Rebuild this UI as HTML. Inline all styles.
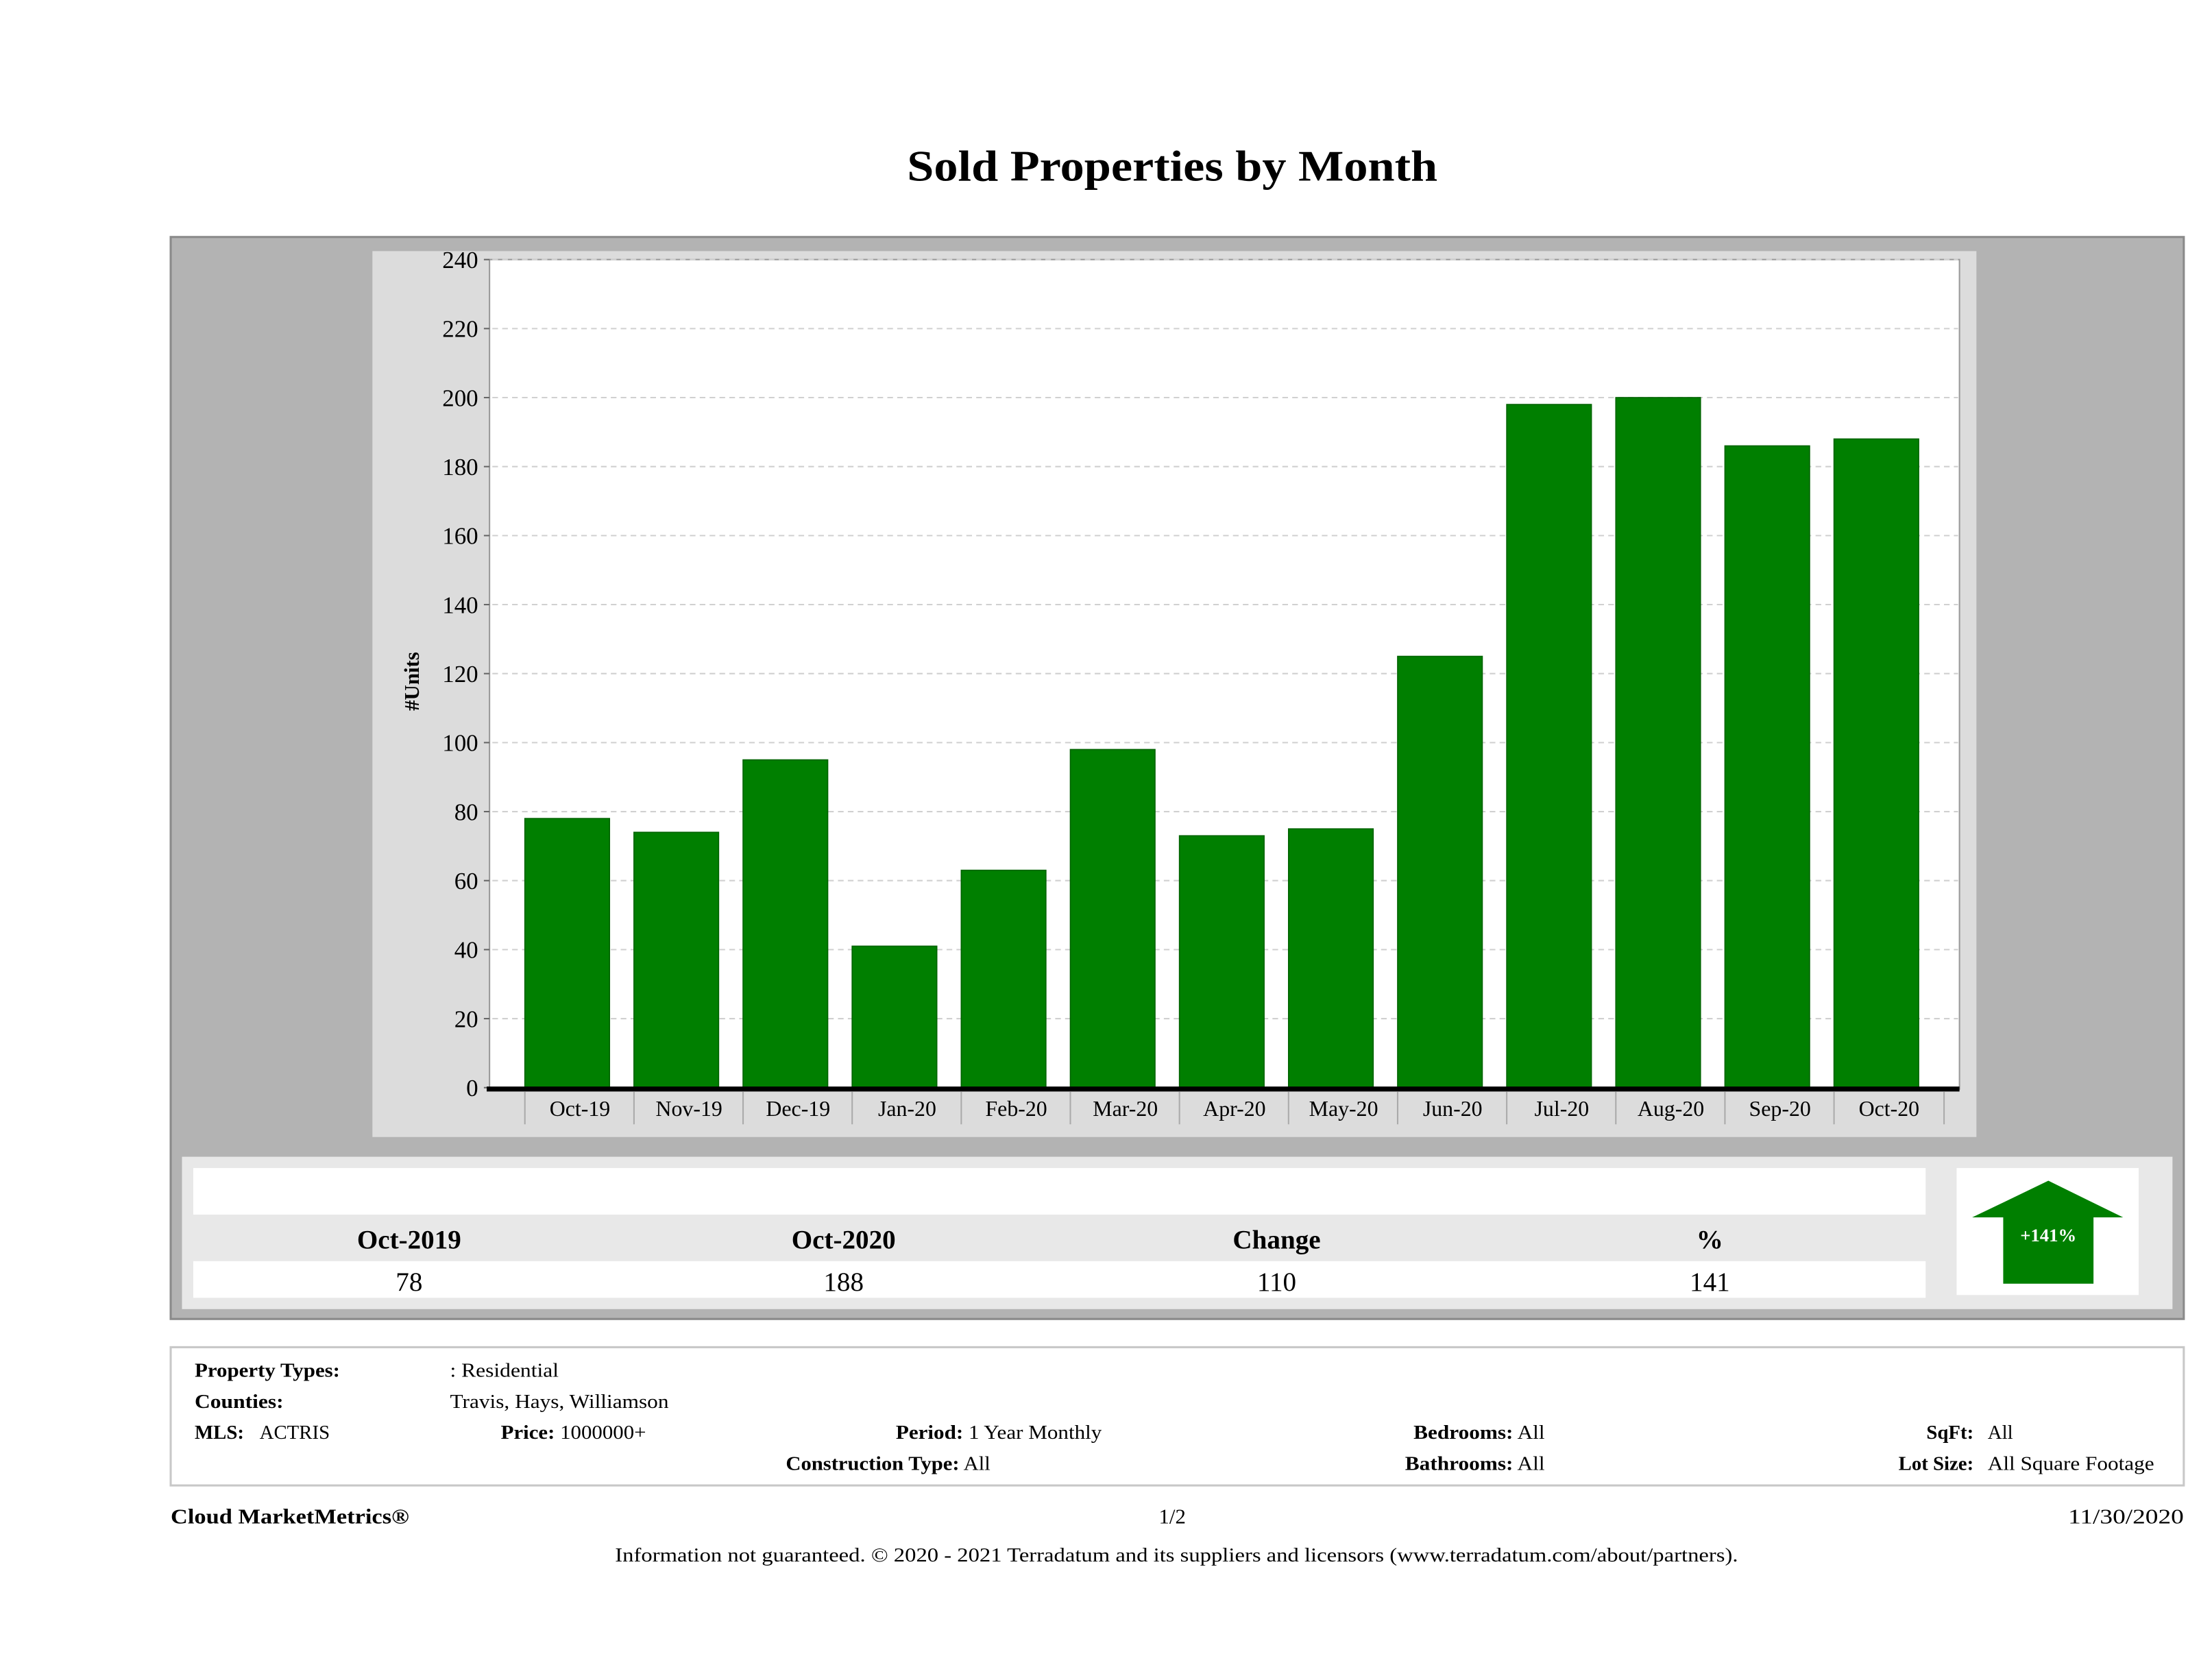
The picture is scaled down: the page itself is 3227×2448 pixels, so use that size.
<!DOCTYPE html>
<html><head><meta charset="utf-8"><style>
html,body{margin:0;padding:0;background:#fff;}
svg{display:block;font-family:"Liberation Serif",serif;}
</style></head><body>
<svg id="root" xmlns="http://www.w3.org/2000/svg" width="3227" height="2448" viewBox="0 0 1568 1189.5" preserveAspectRatio="none">
<rect x="0" y="0" width="1568" height="1189.5" fill="#fff"/>
<text x="831" y="128" text-anchor="middle" font-size="31" font-weight="bold" fill="#000" textLength="376" lengthAdjust="spacingAndGlyphs">Sold Properties by Month</text>
<rect x="121" y="168" width="1427" height="767" fill="#b3b3b3" stroke="#8a8a8a" stroke-width="1.5"/>
<rect x="264" y="178" width="1137" height="628" fill="#dcdcdc"/>
<rect x="347" y="184" width="1042" height="588" fill="#fff" stroke="#999" stroke-width="1"/>
<g id="grid"></g>
<g id="yticks"></g>
<g id="bars"></g>
<line x1="345" y1="772" x2="1389" y2="772" stroke="#000" stroke-width="3.5"/>
<g id="xticks"></g>
<text x="0" y="0" transform="translate(297,483) rotate(-90)" text-anchor="middle" font-size="15" font-weight="bold">#Units</text>

<rect x="129" y="820" width="1411" height="108" fill="#e8e8e8"/>
<rect x="137" y="828" width="1228" height="33" fill="#fff"/>
<rect x="137" y="894" width="1228" height="26" fill="#fff"/>
<g font-size="19" font-weight="bold" text-anchor="middle">
<text x="290" y="885">Oct-2019</text>
<text x="598" y="885">Oct-2020</text>
<text x="905" y="885">Change</text>
<text x="1212" y="885">%</text>
</g>
<g font-size="19" text-anchor="middle">
<text x="290" y="915">78</text>
<text x="598" y="915">188</text>
<text x="905" y="915">110</text>
<text x="1212" y="915">141</text>
</g>
<rect x="1387" y="828" width="129" height="90" fill="#fff"/>
<polygon points="1452,837 1505,863 1484,863 1484,910 1420,910 1420,863 1398,863" fill="#007f00"/>
<text x="1452" y="880" text-anchor="middle" font-size="13" font-weight="bold" fill="#fff">+141%</text>

<rect x="121" y="955" width="1427" height="98" fill="#fff" stroke="#c8c8c8" stroke-width="1.5"/>
<g font-size="14">
<text x="138" y="976" font-weight="bold" textLength="103" lengthAdjust="spacingAndGlyphs">Property Types:</text>
<text x="319" y="976" textLength="77" lengthAdjust="spacingAndGlyphs">: Residential</text>
<text x="138" y="998" font-weight="bold" textLength="63" lengthAdjust="spacingAndGlyphs">Counties:</text>
<text x="319" y="998" textLength="155" lengthAdjust="spacingAndGlyphs">Travis, Hays, Williamson</text>
<text x="138" y="1020"><tspan font-weight="bold">MLS:</tspan><tspan x="184">ACTRIS</tspan></text>
<text x="355" y="1020" textLength="103" lengthAdjust="spacingAndGlyphs"><tspan font-weight="bold">Price:</tspan> 1000000+</text>
<text x="635" y="1020" textLength="146" lengthAdjust="spacingAndGlyphs"><tspan font-weight="bold">Period:</tspan> 1 Year Monthly</text>
<text x="557" y="1042" textLength="145" lengthAdjust="spacingAndGlyphs"><tspan font-weight="bold">Construction Type:</tspan> All</text>
<text x="1002" y="1020" textLength="93" lengthAdjust="spacingAndGlyphs"><tspan font-weight="bold">Bedrooms:</tspan> All</text>
<text x="996" y="1042" textLength="99" lengthAdjust="spacingAndGlyphs"><tspan font-weight="bold">Bathrooms:</tspan> All</text>
<text x="1399" y="1020" text-anchor="end" font-weight="bold">SqFt:</text>
<text x="1409" y="1020">All</text>
<text x="1399" y="1042" text-anchor="end" font-weight="bold">Lot Size:</text>
<text x="1409" y="1042" textLength="118" lengthAdjust="spacingAndGlyphs">All Square Footage</text>
</g>
<text x="121" y="1080" font-size="15" font-weight="bold" textLength="169" lengthAdjust="spacingAndGlyphs">Cloud MarketMetrics®</text>
<text x="831" y="1080" font-size="15" text-anchor="middle">1/2</text>
<text x="1466" y="1080" font-size="15" textLength="82" lengthAdjust="spacingAndGlyphs">11/30/2020</text>
<text x="436" y="1107" font-size="14" textLength="796" lengthAdjust="spacingAndGlyphs">Information not guaranteed. © 2020 - 2021 Terradatum and its suppliers and licensors (www.terradatum.com/about/partners).</text>
</svg>
<script>
const categories = ["Oct-19","Nov-19","Dec-19","Jan-20","Feb-20","Mar-20","Apr-20","May-20","Jun-20","Jul-20","Aug-20","Sep-20","Oct-20"];
const soldUnits = [78,74,95,41,63,98,73,75,125,198,200,186,188];
const yTickLabels = [0,20,40,60,80,100,120,140,160,180,200,220,240];

const NS = "http://www.w3.org/2000/svg";
const yMin = 0, yMax = 240, yTop = 184, yBottom = 771;
function yScale(v){ return yBottom - (v - yMin) / (yMax - yMin) * (yBottom - yTop); }
const x0 = 363.4, step = (1330 - 402) / 12;
function xCenter(i){ return x0 + step * (i + 0.5); }
const barW = 60;

function mk(tag, attrs, parent){
  const el = document.createElementNS(NS, tag);
  for (const k in attrs) el.setAttribute(k, attrs[k]);
  parent.appendChild(el);
  return el;
}
const grid = document.getElementById('grid');
const yt = document.getElementById('yticks');
yTickLabels.forEach(function(v){
  const y = yScale(v);
  if (v > 0) {
    const g = mk('line', {x1:349, x2:1388, y1:y, y2:y, stroke:'#d0d0d0', 'stroke-width':1, 'stroke-dasharray':'4,3'}, grid);
    
    
  }
  const tk = mk('line', {x1:343, x2:347, y1:y, y2:y, stroke:'#666', 'stroke-width':1}, yt);
  
  
  const t = mk('text', {x:339, y:y + 6, 'text-anchor':'end', 'font-size':17}, yt);
  
  
  t.textContent = v;
});
const bars = document.getElementById('bars');
const xt = document.getElementById('xticks');
categories.forEach(function(c, i){
  const cx = xCenter(i);
  const v = soldUnits[i];
  const r = mk('rect', {x:cx - barW/2, y:yScale(v), width:barW, height:yScale(0) - yScale(v), fill:'#007f00', stroke:'#006400', 'stroke-width':0.8}, bars);
  
  
  const s = mk('line', {x1:cx - 30, x2:cx - 30, y1:774, y2:797, stroke:'#aaa', 'stroke-width':1}, xt);
  
  
  const t = mk('text', {x:cx + 9, y:791, 'text-anchor':'middle', 'font-size':15.5}, xt);
  
  
  t.textContent = c;
});
const last = mk('line', {x1:xCenter(categories.length - 1) + 48, x2:xCenter(categories.length - 1) + 48, y1:774, y2:797, stroke:'#aaa', 'stroke-width':1}, xt);


</script>
</body></html>
